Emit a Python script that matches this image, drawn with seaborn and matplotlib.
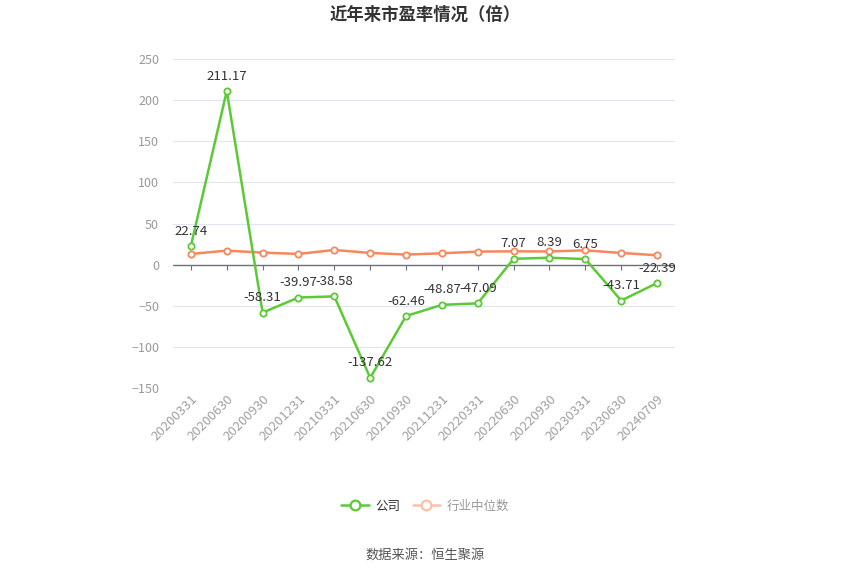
import matplotlib.pyplot as plt
import pandas as pd
import seaborn as sns
from matplotlib.lines import Line2D

# データ
dates = ['20200331', '20200630', '20200930', '20201231', '20210331', '20210630', '20210930',
         '20211231', '20220331', '20220630', '20220930', '20230331', '20230630', '20240709']
company = [22.74, 211.17, -58.31, -39.97, -38.58, -137.62, -62.46,
           -48.87, -47.09, 7.07, 8.39, 6.75, -43.71, -22.39]
industry = [13.0, 17.0, 14.6, 13.0, 17.8, 14.2, 12.2,
            13.8, 15.8, 16.2, 16.0, 17.4, 14.2, 11.4]
yticks = [-150, -100, -50, 0, 50, 100, 150, 200, 250]

green = '#5cc936'
orange = '#f7875c'

sns.set_style('white')
plt.rcParams['font.family'] = ['Noto Sans CJK SC', 'DejaVu Sans']

df = pd.DataFrame({'date': dates, 'company': company, 'industry': industry})
df['x'] = range(len(dates))

fig = plt.figure(figsize=(8.5, 5.75), dpi=100)
ax = fig.add_axes([0.2035, 0.3252, 0.5906, 0.5722])

# グリッド線
for t in yticks:
    if t != 0:
        ax.axhline(t, color='#e0e6f1', lw=0.8, zorder=0)
ax.axhline(0, color='#6e7079', lw=1, zorder=1)
# 0の位置に目盛り
ax.vlines(df['x'], 0, -6, color='#6e7079', lw=0.8, zorder=1)

sns.lineplot(data=df, x='x', y='industry', ax=ax, color=orange, lw=1.8,
             marker='o', markersize=4.5, markerfacecolor='white', markeredgecolor=orange,
             markeredgewidth=1.3, zorder=3)
sns.lineplot(data=df, x='x', y='company', ax=ax, color=green, lw=1.8,
             marker='o', markersize=4.5, markerfacecolor='white', markeredgecolor=green,
             markeredgewidth=1.3, zorder=4)

# データラベル
for i, v in enumerate(company):
    ax.annotate(f'{v:.2f}', (i, v), xytext=(0, 6), textcoords='offset points',
                ha='center', va='bottom', fontsize=9.5, color='#333333', zorder=5)

ax.set_xlim(-0.5, len(dates) - 0.5)
ax.set_ylim(-150, 250)
ax.set_yticks(yticks)
ax.set_xticks(df['x'])
ax.set_xticklabels(dates, rotation=45, ha='right', rotation_mode='anchor')
ax.tick_params(axis='x', length=0, labelcolor='#a0a0a0', labelsize=9.5, pad=3)
ax.tick_params(axis='y', length=0, labelcolor='#999999', labelsize=9, pad=10)
for s in ['top', 'right', 'left', 'bottom']:
    ax.spines[s].set_visible(False)
ax.set_xlabel('')
ax.set_ylabel('')

fig.text(0.5, 0.975, '近年来市盈率情况（倍）', ha='center', va='center',
         fontsize=12.5, fontweight='bold', color='#333333')

# 凡例
handles = [
    Line2D([], [], color=green, lw=1.8, marker='o', markersize=7,
           markerfacecolor='white', markeredgecolor=green, markeredgewidth=1.6),
    Line2D([], [], color='#fbc0a9', lw=1.8, marker='o', markersize=7,
           markerfacecolor='white', markeredgecolor='#fbc0a9', markeredgewidth=1.6),
]
leg = fig.legend(handles, ['公司', '行业中位数'], loc='center', bbox_to_anchor=(0.5, 0.12),
                 ncol=2, frameon=False, fontsize=9, handlelength=2.2, columnspacing=1.0,
                 handletextpad=0.5)
leg.get_texts()[0].set_color('#333333')
leg.get_texts()[1].set_color('#999999')

fig.text(0.5, 0.035, '数据来源：恒生聚源', ha='center', va='center', fontsize=9.5, color='#555555')

fig.savefig('out.png', dpi=100)
